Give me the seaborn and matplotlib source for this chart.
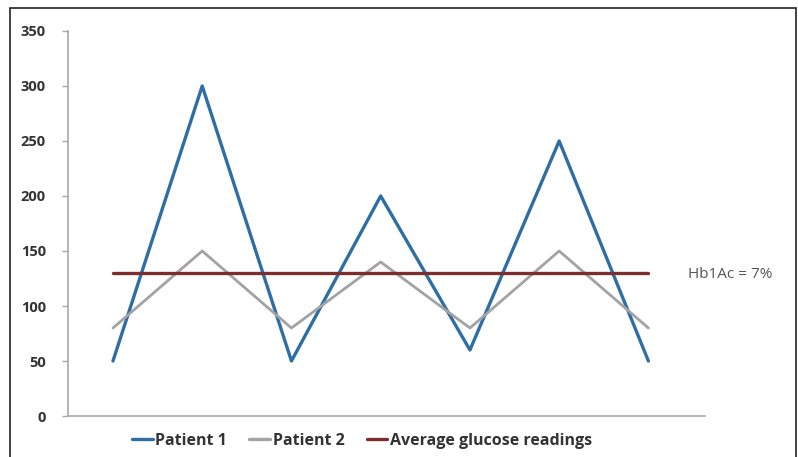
import pandas as pd
import seaborn as sns
import matplotlib.pyplot as plt
from matplotlib.patches import Rectangle

# readings over time (7 samples)
points = [0, 1, 2, 3, 4, 5, 6]
patient1 = [50, 300, 50, 200, 60, 250, 50]
patient2 = [80, 150, 80, 140, 80, 150, 80]
average = [130, 130, 130, 130, 130, 130, 130]
series_names = ['Patient 1', 'Patient 2', 'Average glucose readings']
series_colors = ['#2f6ea5', '#a3a3a3', '#7a2e2e']
y_ticks = [0, 50, 100, 150, 200, 250, 300, 350]
note = 'Hb1Ac = 7%'

df = pd.DataFrame({
    'point': points * 3,
    'value': patient1 + patient2 + average,
    'series': [series_names[0]] * 7 + [series_names[1]] * 7 + [series_names[2]] * 7,
})

sns.set_style('white')
plt.rcParams['font.family'] = ['Open Sans', 'DejaVu Sans']

fig = plt.figure(figsize=(7.98, 4.57), dpi=100)
ax = fig.add_axes([0.0852, 0.0897, 0.7978, 0.8425])

sns.lineplot(data=df, x='point', y='value', hue='series', palette=series_colors,
             hue_order=series_names, ax=ax, linewidth=2.2, legend=False)
for line, lw in zip(ax.get_lines(), [2.4, 2.0, 2.4]):
    line.set_linewidth(lw)

ax.set_xlim(-0.504, 6.63)
ax.set_ylim(0, 350)
ax.set_yticks(y_ticks)
ax.set_xticks([])
ax.set_xlabel('')
ax.set_ylabel('')
for s in ['top', 'right']:
    ax.spines[s].set_visible(False)
for s in ['left', 'bottom']:
    ax.spines[s].set_color('#a8a8a8')
    ax.spines[s].set_linewidth(1.2)
ax.tick_params(axis='y', length=4, color='#a8a8a8', width=1, pad=12,
               labelsize=10.5, labelcolor='#333333', left=True)
for lab in ax.get_yticklabels():
    lab.set_fontweight('bold')

ax.text(688 / 798, 1 - 274 / 457, note, transform=fig.transFigure,
        fontsize=11, color='#555555', va='center', ha='left')

handles = [plt.Line2D([], [], color=c, lw=2.4) for c in series_colors]
fig.legend(handles, series_names, loc='center', bbox_to_anchor=(362 / 798, 1 - 441 / 457),
           ncol=3, frameon=False, handlelength=1.3, handletextpad=0.15, columnspacing=1.4,
           prop={'size': 11.5, 'weight': 'bold'}, labelcolor='#333333')

fig.patches.append(Rectangle((10 / 798, -0.01), 786 / 798, 1 - 8 / 457 + 0.01,
                             transform=fig.transFigure, fill=False, edgecolor='#222222',
                             linewidth=1.2))

fig.savefig('out.png', dpi=100)
